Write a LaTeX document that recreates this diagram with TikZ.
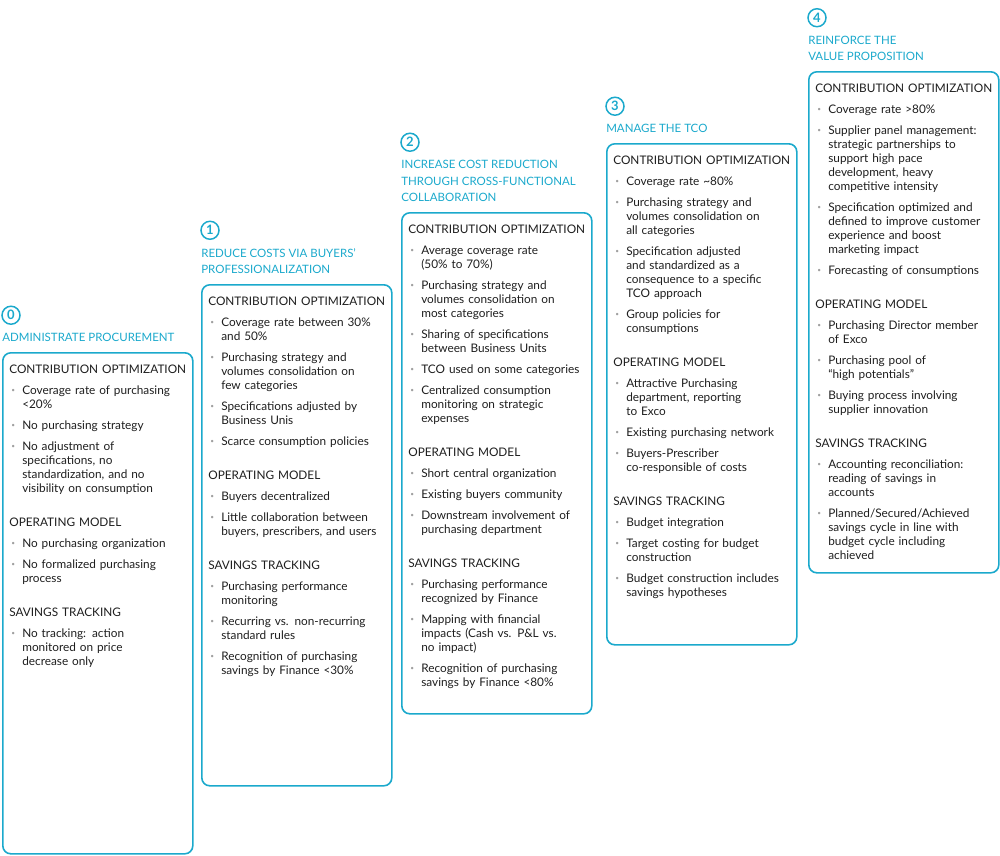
\documentclass[tikz,border=0pt]{standalone}
\usepackage{fontspec}
\setmainfont{Lato}
\usetikzlibrary{positioning}
\definecolor{stagecyan}{HTML}{1BA9CC}
\definecolor{bodygray}{HTML}{1E1E1E}
\definecolor{dotgray}{HTML}{A0A0A0}
\newcommand\BW{190}
\newcommand\BH{501}
\newcommand\sect[1]{\par\vspace{20pt}\noindent #1\par}
\newcommand\itm[1]{\par\vspace{7pt}{\let\\\newline\hangindent=13pt\hangafter=1\noindent
  \makebox[13pt][l]{\hspace{2pt}\raisebox{2pt}{\fontsize{6.5}{6.5}\selectfont\textcolor{dotgray}{\textbullet}}}%
  #1\par}}

\begin{document}
\begin{tikzpicture}[x=1pt,y=-1pt,semithick]

  \tikzstyle{stage}=[draw=stagecyan,line width=1.6pt,rounded corners=8pt,
                     anchor=north west,minimum width=\BW pt,minimum height=\BH pt]
  \tikzstyle{body}=[anchor=north west,inner sep=0pt,text width=182pt,align=left,
                    text=bodygray,font=\fontsize{11.8}{14}\selectfont]
  \tikzstyle{title}=[anchor=south west,inner sep=0pt,align=left,text=stagecyan,
                     font=\fontsize{11.5}{16.5}\selectfont]
  \tikzstyle{num}=[circle,draw=stagecyan,line width=1.5pt,inner sep=0pt,
                   minimum size=18pt,text=stagecyan,font=\fontsize{13}{13}\selectfont\bfseries]

  \useasboundingbox (0,0) rectangle (1000,855);

  % stage 0
  \node[stage] (B0) at (2,352) {};
  \node[title,above right=10pt and 0pt of B0.north west] (T0) {ADMINISTRATE PROCUREMENT};
  \node[num,above=8pt of T0.north west,xshift=9pt] (N0) {0};
  \node[body,below right=13pt and 7pt of B0.north west] (C0) {%
    \noindent CONTRIBUTION OPTIMIZATION\par
    \itm{Coverage rate of purchasing\\<20\%}
    \itm{No purchasing strategy}
    \itm{No adjustment of\\specifications, no\\standardization, and no\\visibility on consumption}
    \sect{OPERATING MODEL}
    \itm{No purchasing organization}
    \itm{No formalized purchasing\\process}
    \sect{SAVINGS TRACKING}
    \itm{No tracking: action\\monitored on price\\decrease only}};

  % stage 1
  \node[stage] (B1) at (201,284) {};
  \node[title,above right=10pt and 0pt of B1.north west] (T1) {REDUCE COSTS VIA BUYERS’\\PROFESSIONALIZATION};
  \node[num,above=8pt of T1.north west,xshift=9pt] (N1) {1};
  \node[body,below right=13pt and 7pt of B1.north west] (C1) {%
    \noindent CONTRIBUTION OPTIMIZATION\par
    \itm{Coverage rate between 30\%\\and 50\%}
    \itm{Purchasing strategy and\\volumes consolidation on\\few categories}
    \itm{Specifications adjusted by\\Business Unis}
    \itm{Scarce consumption policies}
    \sect{OPERATING MODEL}
    \itm{Buyers decentralized}
    \itm{Little collaboration between\\buyers, prescribers, and users}
    \sect{SAVINGS TRACKING}
    \itm{Purchasing performance\\monitoring}
    \itm{Recurring vs. non-recurring\\standard rules}
    \itm{Recognition of purchasing\\savings by Finance <30\%}};

  % stage 2
  \node[stage] (B2) at (401,212) {};
  \node[title,above right=10pt and 0pt of B2.north west] (T2) {INCREASE COST REDUCTION\\THROUGH CROSS-FUNCTIONAL\\COLLABORATION};
  \node[num,above=8pt of T2.north west,xshift=9pt] (N2) {2};
  \node[body,below right=13pt and 7pt of B2.north west] (C2) {%
    \noindent CONTRIBUTION OPTIMIZATION\par
    \itm{Average coverage rate\\(50\% to 70\%)}
    \itm{Purchasing strategy and\\volumes consolidation on\\most categories}
    \itm{Sharing of specifications\\between Business Units}
    \itm{TCO used on some categories}
    \itm{Centralized consumption\\monitoring on strategic\\expenses}
    \sect{OPERATING MODEL}
    \itm{Short central organization}
    \itm{Existing buyers community}
    \itm{Downstream involvement of\\purchasing department}
    \sect{SAVINGS TRACKING}
    \itm{Purchasing performance\\recognized by Finance}
    \itm{Mapping with financial\\impacts (Cash vs. P\&L vs.\\no impact)}
    \itm{Recognition of purchasing\\savings by Finance <80\%}};

  % stage 3
  \node[stage] (B3) at (606,143) {};
  \node[title,above right=10pt and 0pt of B3.north west] (T3) {MANAGE THE TCO};
  \node[num,above=8pt of T3.north west,xshift=9pt] (N3) {3};
  \node[body,below right=13pt and 7pt of B3.north west] (C3) {%
    \noindent CONTRIBUTION OPTIMIZATION\par
    \itm{Coverage rate \textasciitilde80\%}
    \itm{Purchasing strategy and\\volumes consolidation on\\all categories}
    \itm{Specification adjusted\\and standardized as a\\consequence to a specific\\TCO approach}
    \itm{Group policies for\\consumptions}
    \sect{OPERATING MODEL}
    \itm{Attractive Purchasing\\department, reporting\\to Exco}
    \itm{Existing purchasing network}
    \itm{Buyers-Prescriber\\co-responsible of costs}
    \sect{SAVINGS TRACKING}
    \itm{Budget integration}
    \itm{Target costing for budget\\construction}
    \itm{Budget construction includes\\savings hypotheses}};

  % stage 4
  \node[stage] (B4) at (808,71) {};
  \node[title,above right=10pt and 0pt of B4.north west] (T4) {REINFORCE THE\\VALUE PROPOSITION};
  \node[num,above=8pt of T4.north west,xshift=9pt] (N4) {4};
  \node[body,below right=13pt and 7pt of B4.north west] (C4) {%
    \noindent CONTRIBUTION OPTIMIZATION\par
    \itm{Coverage rate >80\%}
    \itm{Supplier panel management:\\strategic partnerships to\\support high pace\\development, heavy\\competitive intensity}
    \itm{Specification optimized and\\defined to improve customer\\experience and boost\\marketing impact}
    \itm{Forecasting of consumptions}
    \sect{OPERATING MODEL}
    \itm{Purchasing Director member\\of Exco}
    \itm{Purchasing pool of\\“high potentials”}
    \itm{Buying process involving\\supplier innovation}
    \sect{SAVINGS TRACKING}
    \itm{Accounting reconciliation:\\reading of savings in\\accounts}
    \itm{Planned/Secured/Achieved\\savings cycle in line with\\budget cycle including\\achieved}};

\end{tikzpicture}
\end{document}
